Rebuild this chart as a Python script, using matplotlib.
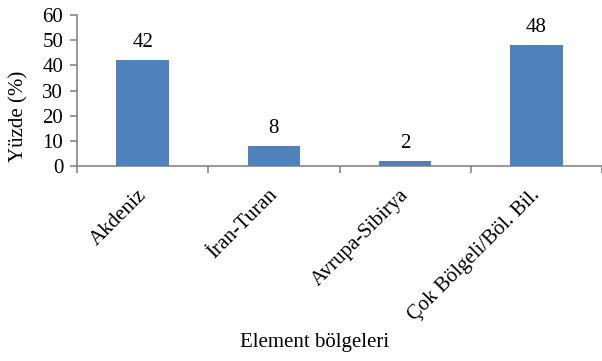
import matplotlib
matplotlib.use("Agg")
import matplotlib.pyplot as plt
import matplotlib.transforms as mtransforms
import numpy as np

categories = ["Akdeniz", "İran-Turan", "Avrupa-Sibirya", "Çok Bölgeli/Böl. Bil."]
values = [42, 8, 2, 48]
y_ticks = [0, 10, 20, 30, 40, 50, 60]

plt.rcParams["font.family"] = ["Liberation Serif", "DejaVu Serif"]
axis_gray = "#868686"
bar_blue = "#4F81BD"
fs = 15

fig = plt.figure(figsize=(6.02, 3.61), dpi=100)
ax = fig.add_axes([0.128, 0.540, 0.872, 0.418])

x = np.arange(len(categories))
ax.bar(x, values, width=0.4, color=bar_blue, zorder=3)
for xi, v in zip(x, values):
    ax.annotate(str(v), (xi, v), xytext=(0, 6), textcoords="offset points",
                ha="center", va="bottom", fontsize=fs)

ax.set_xlim(-0.5, len(categories) - 0.5)
ax.set_ylim(0, 60)
ax.set_yticks(y_ticks)
ax.set_yticklabels([str(t) for t in y_ticks], fontsize=fs)

# category boundaries carry the tick marks, labels sit under the bar centres
ax.set_xticks(np.arange(len(categories) + 1) - 0.5)
ax.set_xticklabels([])
ax.set_xticks(x, minor=True)
ax.set_xticklabels(categories, minor=True, rotation=45, ha="right", va="top",
                   rotation_mode="anchor", fontsize=fs)
ax.tick_params(axis="x", which="minor", length=0, pad=14)
ax.tick_params(axis="x", which="major", length=5, color=axis_gray, width=1.2)
ax.tick_params(axis="y", length=5, color=axis_gray, width=1.2, pad=5)

shift = mtransforms.ScaledTranslation(-6 / 100, 0, fig.dpi_scale_trans)
for lbl in ax.get_xticklabels(minor=True):
    lbl.set_transform(lbl.get_transform() + shift)

for side in ("top", "right"):
    ax.spines[side].set_visible(False)
for side in ("left", "bottom"):
    ax.spines[side].set_color(axis_gray)
    ax.spines[side].set_linewidth(1.2)

fig.text(0.032, 0.679, "Yüzde (%)", rotation=90, ha="center", va="center", fontsize=fs)
fig.text(0.523, 0.05, "Element bölgeleri", ha="center", va="center", fontsize=fs)

fig.savefig("out.png", dpi=100)
